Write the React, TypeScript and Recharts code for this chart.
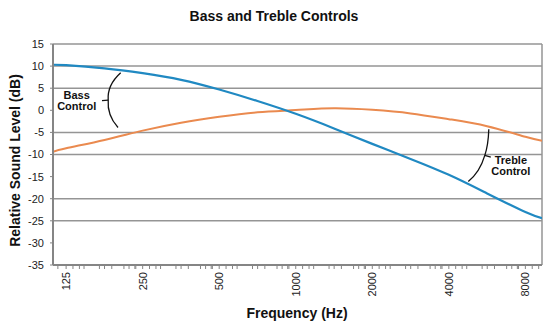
import React from "react";
import {
  LineChart,
  Line,
  XAxis,
  YAxis,
  ReferenceLine,
} from "recharts";

// ---- data ----
const frequencies = [111, 125, 177, 250, 354, 500, 707, 1000, 1414, 2000, 2828, 4000, 5657, 8000, 9300];
const blueCurve = [10.3, 10.2, 9.5, 8.4, 6.9, 4.7, 2.1, -0.8, -4.1, -7.6, -11.0, -14.6, -18.8, -23.0, -24.4];
const orangeCurve = [-9.4, -8.6, -6.7, -4.6, -2.8, -1.45, -0.45, 0.05, 0.45, 0.1, -0.7, -2.0, -3.6, -6.0, -6.9];

const majorTicks = [125, 250, 500, 1000, 2000, 4000, 8000];
const minorRatios = [0.93, 1.064, 1.128, 1.176, 1.352, 1.416, 1.512, 1.688, 1.768, 1.88];
const yTicks = [-35, -30, -25, -20, -15, -10, -5, 0, 5, 10, 15];
const gridValues = [10, 5, -5, -10, -20, -25];

const X_MIN = 111;
const X_MAX = 9300;
const Y_MIN = -35;
const Y_MAX = 15;

const data = frequencies.map((f, i) => ({ f, blue: blueCurve[i], orange: orangeCurve[i] }));
const allTicks = Array.from(
  new Set(
    [...majorTicks, ...majorTicks.flatMap((m) => minorRatios.map((r) => Math.round(m * r)))].filter(
      (t) => t >= X_MIN && t <= X_MAX
    )
  )
).sort((a, b) => a - b);

// ---- layout ----
const W = 550;
const H = 330;
const PLOT_L = 53;
const PLOT_R = 542;
const PLOT_T = 44;
const PLOT_B = 265;

const px = (f: number) =>
  PLOT_L + ((PLOT_R - PLOT_L) * Math.log(f / X_MIN)) / Math.log(X_MAX / X_MIN);
const py = (v: number) => PLOT_T + ((Y_MAX - v) * (PLOT_B - PLOT_T)) / (Y_MAX - Y_MIN);
const P = (f: number, v: number) => `${px(f).toFixed(1)},${py(v).toFixed(1)}`;

const FONT = "'Liberation Sans', Arial, sans-serif";
const GRID = "#959595";
const AXIS = "#858585";
const BLUE = "#2089c2";
const ORANGE = "#ea8a4f";

const XTick = (props: any) => {
  const { x, y, payload } = props;
  if (!majorTicks.includes(payload.value)) return <g />;
  return (
    <text
      x={x}
      y={y + 1}
      transform={`rotate(-90, ${x}, ${y + 1})`}
      textAnchor="end"
      dy="0.36em"
      fontSize={11}
      fontFamily={FONT}
      fill="#222"
    >
      {payload.value}
    </text>
  );
};

export default function App() {
  return (
    <div style={{ position: "absolute", left: 0, top: 0, width: W, height: H, background: "#fff" }}>
      <LineChart
        width={W}
        height={H}
        data={data}
        margin={{ top: PLOT_T, right: W - PLOT_R, bottom: 0, left: 0 }}
      >
        <XAxis
          dataKey="f"
          type="number"
          scale="log"
          domain={[X_MIN, X_MAX]}
          allowDataOverflow
          ticks={allTicks}
          interval={0}
          tick={<XTick />}
          tickSize={4}
          tickMargin={2}
          height={H - PLOT_B}
          axisLine={{ stroke: AXIS, strokeWidth: 2 }}
          tickLine={{ stroke: AXIS, strokeWidth: 1 }}
        />
        <YAxis
          type="number"
          domain={[Y_MIN, Y_MAX]}
          ticks={yTicks}
          interval={0}
          width={PLOT_L}
          tickSize={3}
          tickMargin={6}
          axisLine={{ stroke: AXIS, strokeWidth: 2 }}
          tickLine={{ stroke: AXIS, strokeWidth: 1 }}
          tick={{ fontSize: 11, fontFamily: FONT, fill: "#222" }}
        />
        {gridValues.map((g) => (
          <ReferenceLine key={g} y={g} stroke={GRID} strokeWidth={1.5} />
        ))}
        <ReferenceLine y={Y_MAX} stroke={GRID} strokeWidth={1.5} />
        <ReferenceLine x={X_MAX} stroke={GRID} strokeWidth={1.5} />
        <Line
          type="natural"
          dataKey="orange"
          stroke={ORANGE}
          strokeWidth={2}
          dot={false}
          isAnimationActive={false}
        />
        <Line
          type="natural"
          dataKey="blue"
          stroke={BLUE}
          strokeWidth={2.2}
          dot={false}
          isAnimationActive={false}
        />
      </LineChart>
      <svg
        width={W}
        height={H}
        style={{ position: "absolute", left: 0, top: 0, pointerEvents: "none" }}
      >
        <text x={274} y={21} textAnchor="middle" fontFamily={FONT} fontWeight="bold" fontSize={14} fill="#111">
          Bass and Treble Controls
        </text>
        <text
          x={0}
          y={0}
          transform={`translate(20, ${(PLOT_T + PLOT_B) / 2 + 6}) rotate(-90)`}
          textAnchor="middle"
          fontFamily={FONT}
          fontWeight="bold"
          fontSize={14}
          fill="#111"
        >
          Relative Sound Level (dB)
        </text>
        <text x={297} y={318} textAnchor="middle" fontFamily={FONT} fontWeight="bold" fontSize={14} fill="#111">
          Frequency (Hz)
        </text>

        {/* Bass annotation */}
        <path
          d={`M${P(205, 8.5)} Q${P(181, 5.7)} ${P(183, 2.3)} Q${P(181, -1.1)} ${P(200, -3.9)}`}
          fill="none"
          stroke="#111"
          strokeWidth={1.3}
        />
        <path d={`M${P(183, 2.3)} L${P(173, 2.2)}`} stroke="#111" strokeWidth={1.3} />
        <text x={px(137.6)} y={py(2.56)} textAnchor="middle" fontFamily={FONT} fontWeight="bold" fontSize={11} fill="#111">
          Bass
        </text>
        <text x={px(137.6)} y={py(0.07)} textAnchor="middle" fontFamily={FONT} fontWeight="bold" fontSize={11} fill="#111">
          Control
        </text>

        {/* Treble annotation */}
        <path
          d={`M${P(5743, -4.3)} Q${P(5717, -7.85)} ${P(5541, -10.2)} Q${P(5297, -14.0)} ${P(4772, -16.1)}`}
          fill="none"
          stroke="#111"
          strokeWidth={1.3}
        />
        <path d={`M${P(5541, -10.2)} L${P(5848, -10.6)}`} stroke="#111" strokeWidth={1.3} />
        <text x={px(7013)} y={py(-12.15)} textAnchor="middle" fontFamily={FONT} fontWeight="bold" fontSize={11} fill="#111">
          Treble
        </text>
        <text x={px(7013)} y={py(-14.6)} textAnchor="middle" fontFamily={FONT} fontWeight="bold" fontSize={11} fill="#111">
          Control
        </text>
      </svg>
    </div>
  );
}
